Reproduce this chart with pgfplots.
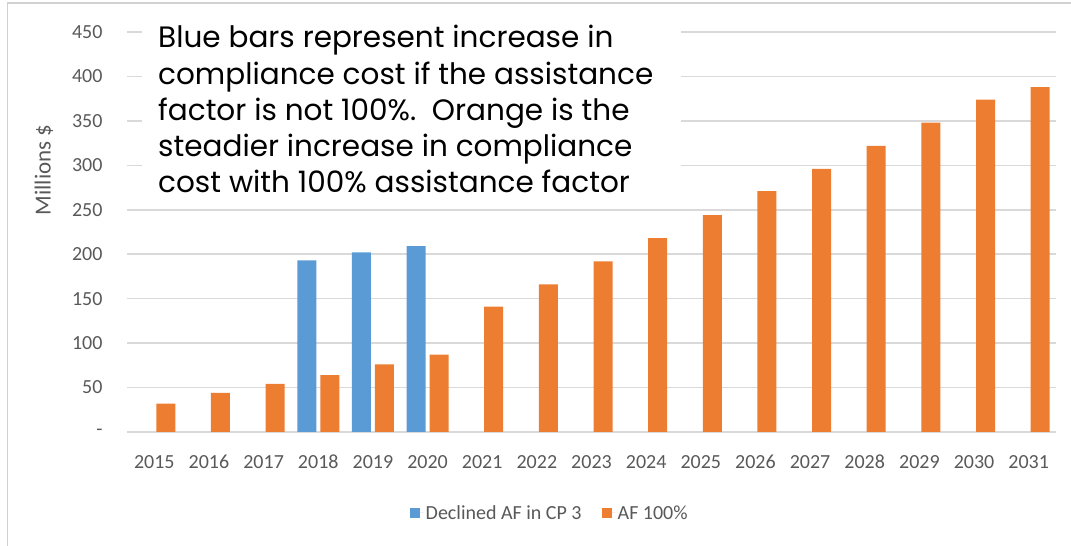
\documentclass[border=0pt]{standalone}
\usepackage{fontspec}
\setmainfont{Carlito}
\newfontfamily\gothic{Poppins}
\usepackage{pgfplots}
\pgfplotsset{compat=1.18}
\definecolor{cblue}{HTML}{5B9BD5}
\definecolor{corange}{HTML}{ED7D31}
\definecolor{cgrid}{HTML}{D9D9D9}
\definecolor{ctext}{HTML}{595959}
\begin{document}
\begin{tikzpicture}[x=1pt,y=1pt]
\useasboundingbox (0,0) rectangle (1071,546);
\draw[line width=1.5pt, black!18] (7.5,0) -- (7.5,543) -- (1071,543);
\begin{axis}[
  at={(127pt,114pt)}, anchor=south west,
  scale only axis, width=929pt, height=400pt,
  xmin=-0.5, xmax=16.5, ymin=0, ymax=450,
  ybar=4pt, bar width=19pt,
  xtick={0,...,16},
  xticklabels={2015,2016,2017,2018,2019,2020,2021,2022,2023,2024,2025,2026,2027,2028,2029,2030,2031},
  ytick={0,50,...,450},
  yticklabels={-\hspace{9pt},50,100,150,200,250,300,350,400,450},
  ymajorgrids, grid style={cgrid, line width=1.5pt},
  axis line style={draw=none}, major tick length=0pt,
  tick label style={font=\fontsize{20}{24}\selectfont, text=ctext},
  /pgf/number format/assume math mode=true,
  xticklabel style={anchor=base, yshift=-37pt},
  yticklabel style={anchor=east, xshift=-21pt},
  ylabel={Millions \$},
  ylabel style={font=\fontsize{23}{26}\selectfont, text=ctext, anchor=center},
  every axis y label/.append style={at={(-83pt,262pt)}},
  legend columns=2,
  legend style={draw=none, at={(0.455,-0.2025)}, anchor=center,
    font=\fontsize{20}{24}\selectfont, text=ctext,
    /tikz/every even column/.append style={column sep=18pt}},
  legend image code/.code={\fill[#1] (0pt,-5pt) rectangle (10pt,5pt); \path (0pt,0pt) -- (14pt,0pt);},
]
\addplot[fill=cblue, draw=none] coordinates {(3,193) (4,202) (5,209)};
\addlegendentry{Declined AF in CP 3}
\addplot[fill=corange, draw=none] coordinates {
(0,32) (1,44) (2,54) (3,64) (4,76) (5,87) (6,141) (7,166) (8,192) (9,218)
(10,244) (11,271) (12,296) (13,322) (14,348) (15,374) (16,388)};
\addlegendentry{AF 100\%}
\end{axis}
\fill[white] (142,341) rectangle (681,526);
\foreach \t/\b in {{Blue bars represent increase in}/48,
  {compliance cost if the assistance}/85,
  {factor is not 100\%.\ \ Orange is the}/121,
  {steadier increase in compliance}/157,
  {cost with 100\% assistance factor}/193}
  \node[anchor=base west, inner sep=0pt, font=\gothic\fontsize{29.5}{34}\selectfont] at (158,546-\b) {\t};
\end{tikzpicture}
\end{document}
